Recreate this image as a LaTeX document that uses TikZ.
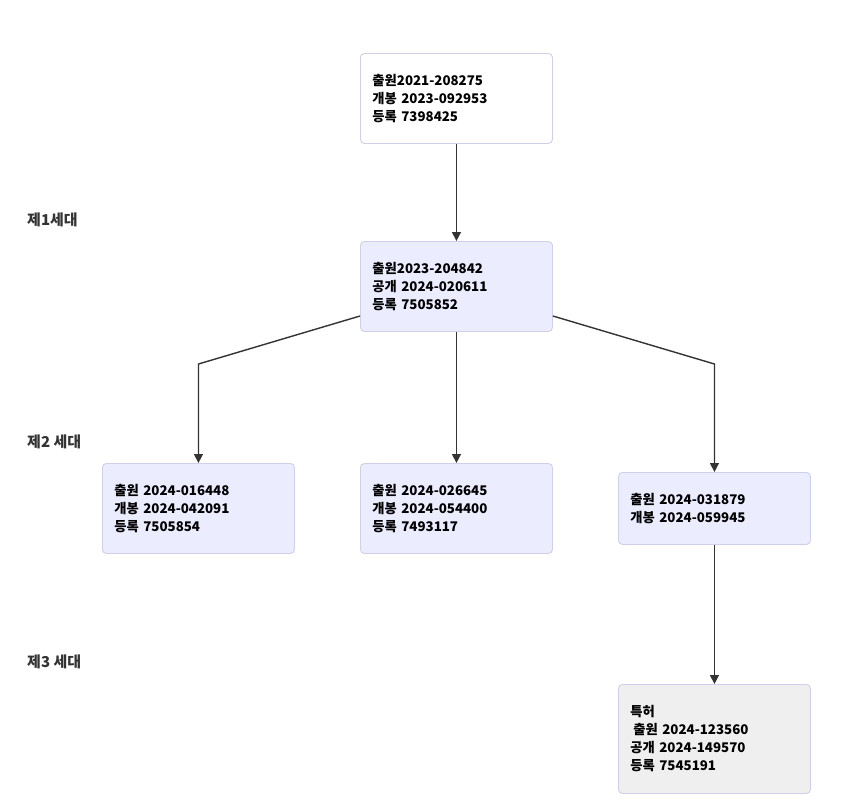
\documentclass[tikz,border=0pt]{standalone}
\usepackage{fontspec}
\setmainfont{Noto Sans CJK KR}
\usepackage{tikz}
\usetikzlibrary{positioning,arrows.meta}
\definecolor{boxfill}{HTML}{ECECFF}
\definecolor{boxline}{HTML}{CFCFE8}
\definecolor{greyfill}{HTML}{EFEFEF}
\definecolor{inkline}{HTML}{333333}
\tikzset{
  blk/.style   = {draw=boxline, line width=0.9pt, rounded corners=4pt,
                  align=left, font=\fontsize{13.3}{18}\selectfont\bfseries,
                  inner xsep=12pt, inner ysep=4pt,
                  minimum width=192pt, text width=168pt, anchor=north west},
  gen/.style   = {blk, fill=boxfill},
  root/.style  = {blk, fill=white},
  pat/.style   = {blk, fill=greyfill},
  ar/.style    = {-{Triangle[length=9pt,width=9pt]}, inkline, line width=1.4pt},
  lbl/.style   = {font=\fontsize{15}{17}\selectfont\bfseries, text=inkline,
                  anchor=west, inner sep=0pt},
}
\begin{document}
\begin{tikzpicture}[x=1pt,y=-1pt]
  \useasboundingbox (0,0) rectangle (858,807);

  % --- generation labels ---
  \node[lbl] (lgen1) at (27,220) {제1세대};
  \node[lbl] (lgen2) at (27,442) {제2 세대};
  \node[lbl] (lgen3) at (27,662) {제3 세대};

  % --- applications ---
  \node[root, minimum height=90pt] (orig) at (360,53)
       {출원2021-208275\\개봉 2023-092953\\등록 7398425};
  \node[gen, minimum height=90pt] (first) at (360,241)
       {출원2023-204842\\공개 2024-020611\\등록 7505852};
  \node[gen, minimum height=90pt] (secA) at (102,463)
       {출원 2024-016448\\개봉 2024-042091\\등록 7505854};
  \node[gen, minimum height=90pt] (secB) at (360,463)
       {출원 2024-026645\\개봉 2024-054400\\등록 7493117};
  \node[gen, minimum height=72pt] (secC) at (618,472)
       {출원 2024-031879\\개봉 2024-059945};
  \node[pat, minimum height=109pt] (third) at (618,684)
       {특허\\\hspace*{3pt}출원 2024-123560\\공개 2024-149570\\등록 7545191};

  % --- links ---
  \draw[ar] (orig.south) -- (first.north);
  \draw[ar] (first.south) -- (secB.north);
  \draw[ar] (first.west |- 0,316) -- (secA.north |- 0,364) -- (secA.north);
  \draw[ar] (first.east |- 0,316) -- (secC.north |- 0,364) -- (secC.north);
  \draw[ar] (secC.south) -- (third.north);
\end{tikzpicture}
\end{document}
